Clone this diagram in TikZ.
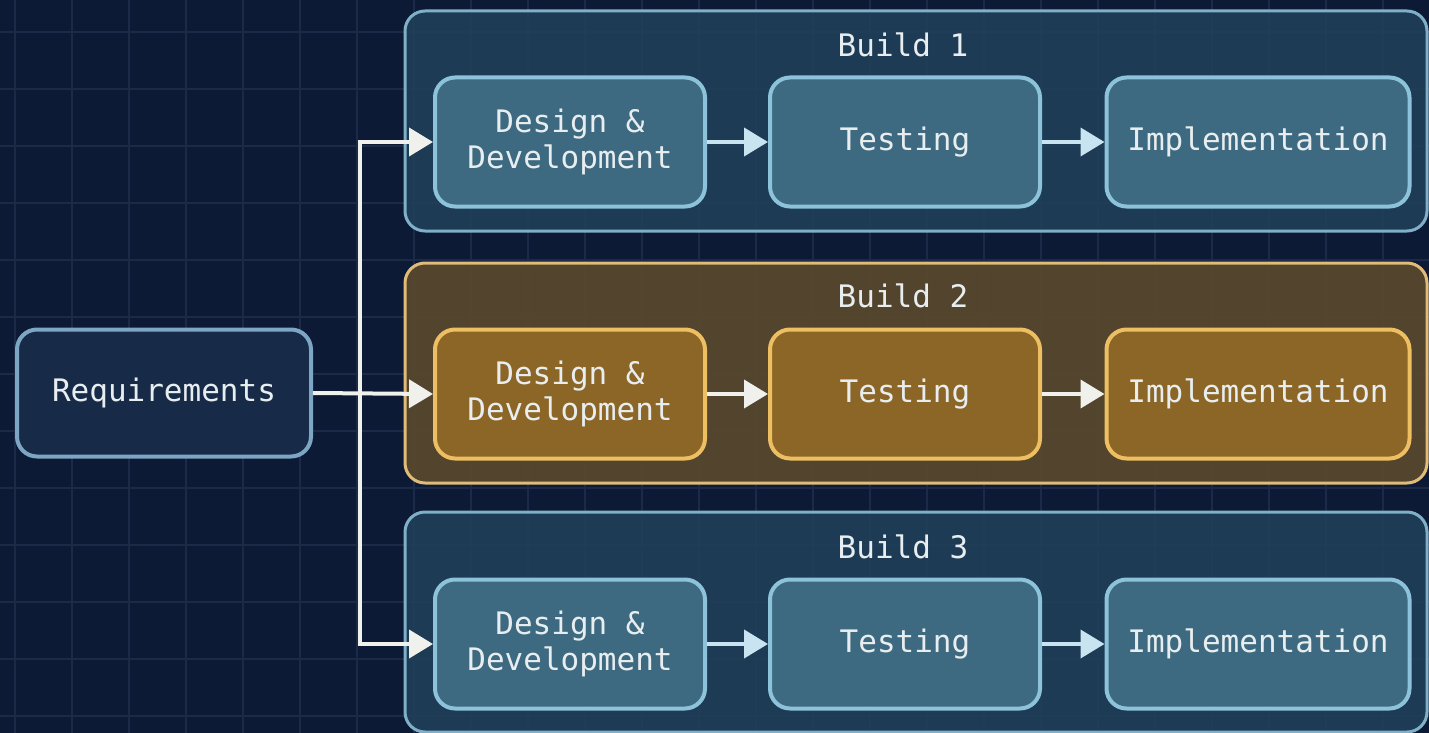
\documentclass[tikz,border=0pt]{standalone}
\usepackage{fontspec}
\setmonofont{DejaVu Sans Mono}
\usetikzlibrary{arrows.meta}

\definecolor{bgnavy}{HTML}{0C1A35}
\definecolor{gridline}{HTML}{1A2A48}
\definecolor{buildfill}{HTML}{21405A}
\definecolor{buildedge}{HTML}{7FB0C8}
\definecolor{stepfill}{HTML}{3D6A80}
\definecolor{stepedge}{HTML}{8CC3DA}
\definecolor{hotfill}{HTML}{5C4A2C}
\definecolor{hotedge}{HTML}{E0BC78}
\definecolor{hotstep}{HTML}{8C6626}
\definecolor{hotstepedge}{HTML}{EDBE62}
\definecolor{reqfill}{HTML}{172B48}
\definecolor{reqedge}{HTML}{7CA6C4}
\definecolor{labeltext}{HTML}{E8EEF0}
\definecolor{arrowblue}{HTML}{C8E4F0}
\definecolor{arrowwhite}{HTML}{F0F0EC}

\tikzset{
  lbl/.style={text=labeltext, font=\ttfamily\fontsize{31}{36}\selectfont, align=center},
  buildbox/.style={draw=buildedge, fill=buildfill, fill opacity=0.88, text opacity=1,
    line width=3pt, rounded corners=20pt,
    minimum width=1022pt, minimum height=220pt, inner sep=0pt},
  hotbuild/.style={buildbox, draw=hotedge, fill=hotfill},
  stepbox/.style={lbl, draw=stepedge, fill=stepfill, line width=4pt, rounded corners=20pt,
    minimum width=270pt, minimum height=129pt, inner sep=0pt},
  widestep/.style={stepbox, minimum width=303pt},
  hotstepbox/.style={draw=hotstepedge, fill=hotstep},
  reqbox/.style={lbl, draw=reqedge, fill=reqfill, line width=4pt, rounded corners=20pt,
    minimum width=294pt, minimum height=127pt, inner sep=0pt},
  flow/.style={draw=arrowblue, line width=4pt, line join=miter,
    -{Triangle[length=24pt, width=28pt]}},
  hotflow/.style={flow, draw=arrowwhite}
}

\begin{document}
\begin{tikzpicture}[x=1pt, y=-1pt]
  % canvas and grid
  \fill[bgnavy] (0,0) rectangle (1429,733);
  \useasboundingbox (0,0) rectangle (1429,733);
  \foreach \gx in {15,72,...,1429} \draw[gridline, line width=1.6pt] (\gx,0) -- (\gx,733);
  \foreach \gy in {32,89,...,733} \draw[gridline, line width=1.6pt] (0,\gy) -- (1429,\gy);

  % build containers
  \node[buildbox] (b1) at (916,121) {};
  \node[hotbuild] (b2) at (916,373) {};
  \node[buildbox] (b3) at (916,622) {};
  \node[lbl] (t1) at (903,45) {Build 1};
  \node[lbl] (t2) at (903,296) {Build 2};
  \node[lbl] (t3) at (903,547) {Build 3};

  % build 1 steps
  \node[stepbox] (d1) at (570,142) {Design \&\\Development};
  \node[stepbox] (s1) at (905,142) {Testing};
  \node[widestep] (i1) at (1258,142) {Implementation};

  % build 2 steps
  \node[stepbox, hotstepbox] (d2) at (570,394) {Design \&\\Development};
  \node[stepbox, hotstepbox] (s2) at (905,394) {Testing};
  \node[widestep, hotstepbox] (i2) at (1258,394) {Implementation};

  % build 3 steps
  \node[stepbox] (d3) at (570,644) {Design \&\\Development};
  \node[stepbox] (s3) at (905,644) {Testing};
  \node[widestep] (i3) at (1258,644) {Implementation};

  % requirements
  \node[reqbox] (req) at (164,393) {Requirements};
  \coordinate (split) at (360,393);

  % arrows inside builds
  \draw[flow] (d1) -- (s1);
  \draw[flow] (s1) -- (i1);
  \draw[hotflow] (d2) -- (s2);
  \draw[hotflow] (s2) -- (i2);
  \draw[flow] (d3) -- (s3);
  \draw[flow] (s3) -- (i3);

  % feed from requirements into each build
  \draw[hotflow] (req.east) -- (d2.west);
  \draw[hotflow] (split) |- (d1.west);
  \draw[hotflow] (split) |- (d3.west);
\end{tikzpicture}
\end{document}
